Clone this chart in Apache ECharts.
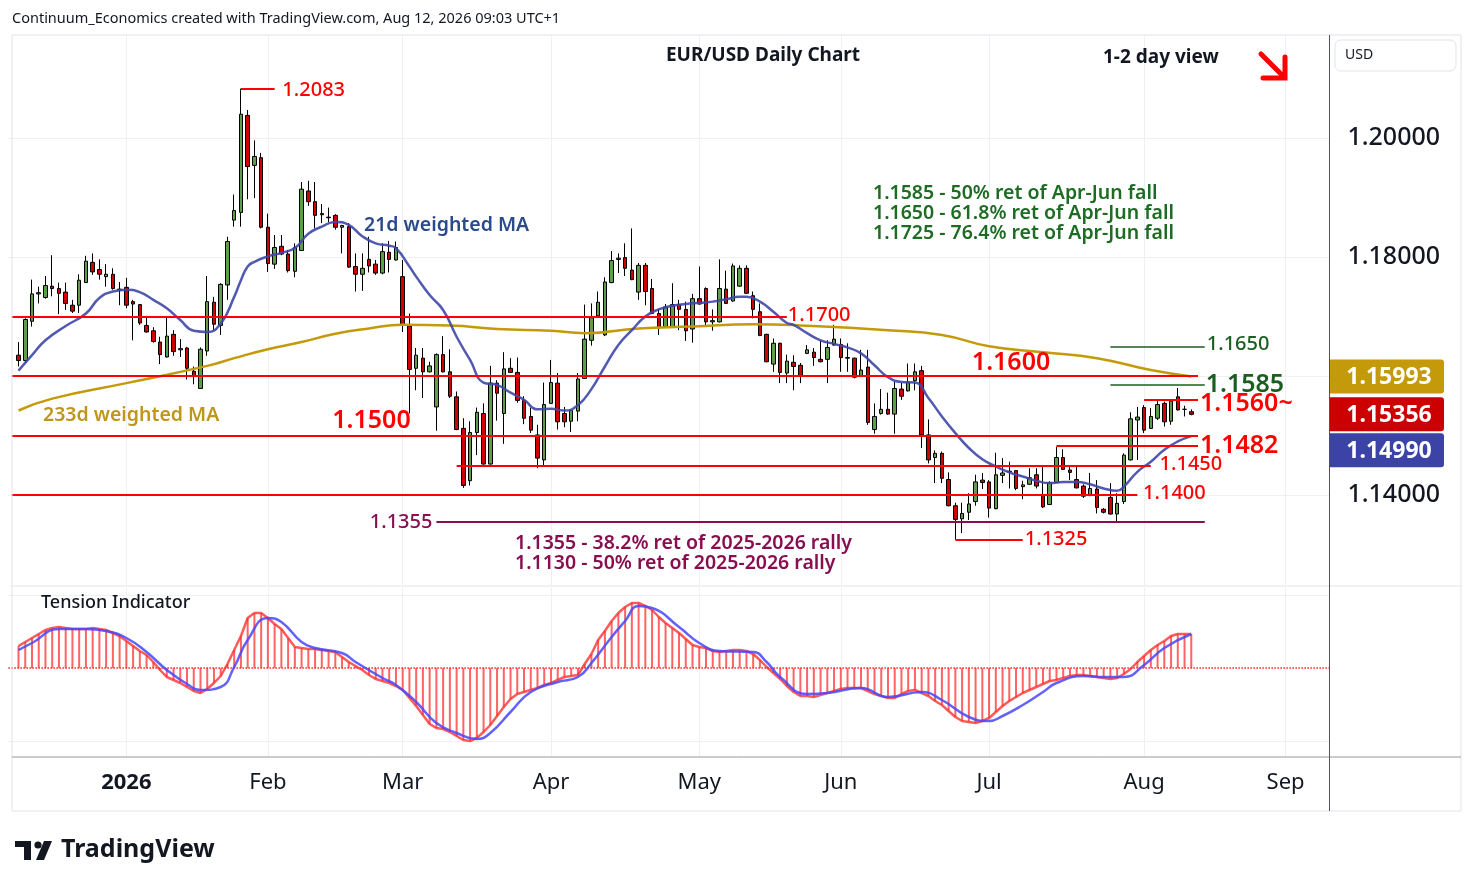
<!DOCTYPE html>
<html><head><meta charset="utf-8">
<script src="https://cdn.jsdelivr.net/npm/echarts@6/dist/echarts.min.js"></script>
<style>html,body{margin:0;padding:0;background:#fff;}#c{width:1474px;height:887px;}</style>
</head><body><div id="c"></div>
<script>
const FONT = '"Noto Sans", "Open Sans", sans-serif';

// ---- DATA ----
// daily candles EUR/USD, rows: [open, high, low, close], first = 9 Dec 2025, last = 12 Aug 2026
const candles = [
[1.1635,1.1657,1.1616,1.1626],[1.1626,1.1697,1.1622,1.1695],[1.1692,1.1762,1.1683,1.1738],[1.1738,1.1750,1.1722,1.1740],
[1.1732,1.1768,1.1730,1.1752],[1.1751,1.1803,1.1734,1.1747],[1.1747,1.1757,1.1704,1.1739],[1.1741,1.1757,1.1711,1.1722],
[1.1719,1.1728,1.1706,1.1709],[1.1719,1.1771,1.1706,1.1761],[1.1757,1.1802,1.1757,1.1793],[1.1791,1.1806,1.1770,1.1775],
[1.1779,1.1796,1.1762,1.1771],[1.1767,1.1788,1.1750,1.1771],[1.1771,1.1781,1.1745,1.1747],[1.1744,1.1758,1.1719,1.1746],
[1.1749,1.1765,1.1714,1.1719],[1.1725,1.1728,1.1660,1.1721],[1.1720,1.1721,1.1686,1.1689],[1.1685,1.1701,1.1673,1.1674],
[1.1676,1.1682,1.1656,1.1658],[1.1657,1.1666,1.1620,1.1636],[1.1632,1.1698,1.1631,1.1667],[1.1670,1.1677,1.1634,1.1641],
[1.1644,1.1662,1.1632,1.1646],[1.1647,1.1649,1.1594,1.1613],[1.1608,1.1616,1.1586,1.1599],[1.1579,1.1648,1.1579,1.1645],
[1.1642,1.1768,1.1634,1.1725],[1.1724,1.1733,1.1677,1.1687],[1.1685,1.1756,1.1669,1.1754],[1.1753,1.1834,1.1728,1.1826],
[1.1862,1.1905,1.1851,1.1878],[1.1875,1.2083,1.1851,1.2040],[1.2038,1.2047,1.1897,1.1952],[1.1954,1.1996,1.1899,1.1969],
[1.1967,1.1975,1.1848,1.1850],[1.1850,1.1873,1.1775,1.1789],[1.1788,1.1837,1.1780,1.1816],[1.1818,1.1837,1.1803,1.1805],
[1.1805,1.1812,1.1774,1.1777],[1.1776,1.1823,1.1766,1.1816],[1.1811,1.1926,1.1810,1.1914],[1.1911,1.1928,1.1886,1.1893],
[1.1893,1.1926,1.1848,1.1870],[1.1871,1.1889,1.1857,1.1873],[1.1866,1.1883,1.1858,1.1867],[1.1870,1.1872,1.1846,1.1850],
[1.1850,1.1854,1.1806,1.1853],[1.1851,1.1857,1.1782,1.1783],[1.1784,1.1806,1.1742,1.1771],[1.1771,1.1806,1.1743,1.1781],
[1.1796,1.1834,1.1774,1.1785],[1.1788,1.1795,1.1770,1.1773],[1.1773,1.1823,1.1771,1.1809],[1.1808,1.1827,1.1774,1.1796],
[1.1795,1.1826,1.1794,1.1816],[1.1767,1.1795,1.1674,1.1685],[1.1684,1.1705,1.1537,1.1611],[1.1613,1.1647,1.1576,1.1635],
[1.1630,1.1647,1.1563,1.1607],[1.1607,1.1624,1.1606,1.1617],[1.1548,1.1638,1.1508,1.1636],[1.1636,1.1667,1.1606,1.1607],
[1.1607,1.1645,1.1563,1.1566],[1.1565,1.1574,1.1509,1.1510],[1.1512,1.1529,1.1412,1.1416],[1.1424,1.1524,1.1416,1.1505],
[1.1505,1.1547,1.1467,1.1539],[1.1537,1.1554,1.1451,1.1452],[1.1452,1.1617,1.1451,1.1588],[1.1588,1.1593,1.1525,1.1571],
[1.1537,1.1640,1.1486,1.1612],[1.1613,1.1630,1.1605,1.1606],[1.1606,1.1631,1.1555,1.1559],[1.1559,1.1566,1.1519,1.1529],
[1.1532,1.1547,1.1504,1.1509],[1.1501,1.1518,1.1445,1.1462],[1.1459,1.1589,1.1448,1.1552],[1.1554,1.1627,1.1553,1.1589],
[1.1588,1.1605,1.1510,1.1523],[1.1537,1.1548,1.1514,1.1523],[1.1524,1.1544,1.1506,1.1542],[1.1541,1.1605,1.1524,1.1595],
[1.1596,1.1720,1.1595,1.1662],[1.1660,1.1722,1.1651,1.1698],[1.1701,1.1742,1.1700,1.1724],[1.1669,1.1766,1.1667,1.1758],
[1.1757,1.1810,1.1756,1.1794],[1.1796,1.1806,1.1773,1.1798],[1.1799,1.1823,1.1768,1.1781],[1.1778,1.1848,1.1761,1.1762],
[1.1741,1.1790,1.1728,1.1786],[1.1786,1.1790,1.1719,1.1742],[1.1747,1.1763,1.1704,1.1705],[1.1705,1.1713,1.1669,1.1681],
[1.1683,1.1721,1.1682,1.1716],[1.1683,1.1756,1.1682,1.1720],[1.1720,1.1728,1.1677,1.1712],[1.1712,1.1725,1.1659,1.1676],
[1.1679,1.1738,1.1656,1.1730],[1.1730,1.1784,1.1720,1.1721],[1.1747,1.1749,1.1684,1.1691],[1.1691,1.1712,1.1676,1.1693],
[1.1691,1.1796,1.1690,1.1747],[1.1746,1.1777,1.1721,1.1722],[1.1726,1.1789,1.1725,1.1785],[1.1751,1.1786,1.1750,1.1781],
[1.1781,1.1786,1.1738,1.1739],[1.1735,1.1742,1.1697,1.1712],[1.1708,1.1722,1.1667,1.1668],[1.1670,1.1671,1.1623,1.1624],
[1.1620,1.1663,1.1607,1.1655],[1.1655,1.1656,1.1588,1.1606],[1.1605,1.1636,1.1588,1.1625],[1.1623,1.1635,1.1576,1.1616],
[1.1618,1.1622,1.1588,1.1600],[1.1638,1.1652,1.1637,1.1644],[1.1640,1.1647,1.1617,1.1631],[1.1628,1.1660,1.1623,1.1624],
[1.1628,1.1660,1.1588,1.1648],[1.1652,1.1686,1.1651,1.1662],[1.1653,1.1663,1.1607,1.1631],[1.1630,1.1655,1.1607,1.1631],
[1.1630,1.1631,1.1596,1.1598],[1.1600,1.1644,1.1599,1.1610],[1.1615,1.1644,1.1518,1.1522],[1.1510,1.1554,1.1503,1.1532],
[1.1537,1.1578,1.1535,1.1544],[1.1544,1.1572,1.1535,1.1536],[1.1536,1.1590,1.1503,1.1579],[1.1578,1.1589,1.1560,1.1566],
[1.1575,1.1621,1.1574,1.1589],[1.1592,1.1621,1.1576,1.1607],[1.1609,1.1617,1.1479,1.1501],[1.1501,1.1527,1.1453,1.1459],
[1.1463,1.1475,1.1420,1.1470],[1.1470,1.1473,1.1420,1.1428],[1.1426,1.1438,1.1381,1.1382],[1.1382,1.1387,1.1325,1.1359],
[1.1360,1.1387,1.1336,1.1369],[1.1371,1.1403,1.1358,1.1385],[1.1389,1.1434,1.1382,1.1422],[1.1425,1.1437,1.1410,1.1421],
[1.1422,1.1425,1.1362,1.1378],[1.1377,1.1471,1.1376,1.1434],[1.1433,1.1462,1.1420,1.1437],[1.1439,1.1456,1.1411,1.1440],
[1.1441,1.1442,1.1408,1.1411],[1.1414,1.1424,1.1393,1.1417],[1.1418,1.1445,1.1417,1.1429],[1.1434,1.1445,1.1411,1.1415],
[1.1400,1.1450,1.1378,1.1380],[1.1384,1.1423,1.1383,1.1421],[1.1421,1.1481,1.1420,1.1463],[1.1463,1.1477,1.1442,1.1443],
[1.1442,1.1450,1.1425,1.1438],[1.1426,1.1448,1.1411,1.1412],[1.1415,1.1418,1.1395,1.1398],[1.1399,1.1437,1.1398,1.1411],
[1.1410,1.1425,1.1369,1.1379],[1.1376,1.1378,1.1369,1.1371],[1.1396,1.1420,1.1367,1.1368],[1.1368,1.1403,1.1356,1.1386],
[1.1389,1.1470,1.1385,1.1467],[1.1459,1.1539,1.1458,1.1528],[1.1526,1.1548,1.1459,1.1531],[1.1547,1.1551,1.1504,1.1509],
[1.1512,1.1546,1.1511,1.1532],[1.1529,1.1560,1.1526,1.1552],[1.1554,1.1557,1.1515,1.1523],[1.1524,1.1561,1.1518,1.1558],
[1.1565,1.1580,1.1542,1.1543],[1.1544,1.1550,1.1532,1.1544],[1.1540,1.1544,1.1534,1.15356]
];

// 21d weighted MA, read points: [candle index, value]
const wma21 = [[0,1.1609],[2,1.1635],[4,1.1660],[7,1.1684],[10,1.1705],[12,1.1731],[14,1.1742],[16,1.1745],[18,1.1741],[20,1.1728],
[22,1.1714],[24,1.1694],[26,1.1676],[28,1.1674],[30,1.1688],[32,1.1733],[33,1.1761],[34,1.1784],[35,1.1792],[37,1.1801],
[39,1.1807],[41,1.1815],[43,1.1839],[45,1.1851],[47,1.1859],[49,1.1854],[51,1.1835],[53,1.1823],[55,1.1819],[56,1.1815],
[58,1.1784],[59,1.1767],[61,1.1736],[63,1.1711],[65,1.1666],[67,1.1627],[69,1.1589],[71,1.1585],[73,1.1572],[75,1.1560],
[77,1.1544],[79,1.1545],[81,1.1542],[83,1.1551],[85,1.1578],[87,1.1616],[89,1.1652],[91,1.1677],[93,1.1700],[95,1.1712],
[97,1.1718],[99,1.1721],[101,1.1723],[103,1.1725],[105,1.1729],[107,1.1733],[108,1.1733],[110,1.1725],[112,1.1708],[114,1.1689],
[115,1.1686],[117,1.1672],[119,1.1660],[121,1.1654],[123,1.1648],[125,1.1638],[127,1.1618],[129,1.1598],[131,1.1590],[133,1.1589],
[135,1.1563],[137,1.1532],[139,1.1504],[141,1.1479],[143,1.1460],[145,1.1448],[147,1.1438],[149,1.1431],[151,1.1424],[153,1.1420],
[155,1.1422],[157,1.1422],[159,1.1418],[161,1.1411],[163,1.1407],[164,1.1414],[166,1.1439],[168,1.1456],[170,1.1476],[172,1.1490],
[174,1.1499]];

// 233d weighted MA, read points: [candle index, value]
const wma233 = [[0,1.1542],[5,1.1562],[16,1.1588],[28,1.1617],[32,1.1630],[37,1.1645],[42,1.1657],[47,1.1671],[52,1.1680],
[57,1.1686],[64,1.1685],[71,1.1679],[79,1.1676],[84,1.1672],[92,1.1680],[100,1.1683],[109,1.1687],[116,1.1685],[129,1.1677],
[137,1.1669],[144,1.1650],[152,1.1640],[160,1.1630],[168,1.1610],[174,1.15993]];

// Tension indicator histogram, one value per candle
const tension = [22,26,30,34,38,40,41,40,39,39, 39,40,39,38,35,32,27,22,17,13, 6,-2,-9,-12,-15,-19,-23,-25,-21,-15,
-8,4,18,32,50,55,55,50,44,39, 30,21,20,19,19,18,17,16,11,6, 2,-2,-7,-11,-13,-15,-18,-22,-30,-38,
-47,-56,-60,-61,-64,-68,-72,-73,-70,-64, -57,-48,-39,-31,-26,-24,-22,-20,-17,-15, -12,-9,-8,-7,4,14,28,37,47,55,
61,65,65,62,58,51,45,40,35,29, 23,21,20,17,16,17,18,18,17,14, 8,1,-5,-11,-18,-24,-28,-28,-29,-27,
-25,-23,-21,-20,-20,-20,-23,-26,-28,-30, -30,-26,-23,-22,-25,-28,-33,-37,-43,-49, -53,-54,-55,-53,-50,-44,-38,-33,-29,-25,
-22,-19,-16,-13,-12,-10,-8,-7,-7,-8, -9,-10,-11,-10,-6,-1,6,12,18,23, 27,32,34,34,34];

// Tension signal line, read points: [candle index, value]
const tensionSignal = [[0,18],[2,25],[6,39],[10,39],[13,37],[16,30],[19,16],[22,-2],[25,-16],[27,-22],[30,-19],[32,1],[34,28],
[37,50],[39,46],[42,26],[44,20],[48,15],[50,6],[54,-10],[56,-17],[59,-34],[62,-55],[65,-65],[68,-71],[70,-65],[73,-44],[76,-24],
[80,-14],[83,-9],[85,5],[88,31],[90,47],[92,62],[94,60],[98,41],[101,25],[104,17],[109,16],[111,6],[113,-9],[117,-26],[120,-25],
[125,-20],[129,-29],[134,-24],[137,-32],[141,-49],[144,-53],[146,-48],[149,-37],[152,-24],[154,-15],[158,-8],[161,-9],[164,-9],
[167,3],[170,20],[174,34]];

const priceTicks = [1.14, 1.18, 1.20];
const priceGrid = [1.14, 1.16, 1.18, 1.20];
const monthNames = ['Jan','Feb','Mar','Apr','May','Jun','Jul','Aug','Sep','Oct','Nov','Dec'];

// Level drawings: price, from/to category index
const levels = [
  {p:1.2083, a:34, b:39, c:'#ff0000', w:2},
  {p:1.1700, a:0, b:115, c:'#ff0000', w:2},
  {p:1.1600, a:0, b:176, c:'#ff0000', w:2},
  {p:1.1500, a:0, b:176, c:'#ff0000', w:2},
  {p:1.1450, a:66, b:169, c:'#ff0000', w:2},
  {p:1.1400, a:0, b:167, c:'#ff0000', w:2},
  {p:1.1482, a:155, b:176, c:'#ff0000', w:2},
  {p:1.1560, a:168, b:176, c:'#ff0000', w:2},
  {p:1.1585, a:163, b:177, c:'#1b5e20', w:1.5},
  {p:1.1650, a:163, b:177, c:'#1b5e20', w:1.5},
  {p:1.1355, a:63, b:177, c:'#880e4f', w:2},
  {p:1.1325, a:140, b:150, c:'#ff0000', w:2}
];
// Level labels: text, category index, price
const levelLabels = [
  {t:'1.2083', i:40, p:1.2081, s:20, c:'#ff0000', fw:500, dx:1, al:'left'},
  {t:'1.1700', i:115, p:1.1702, s:20, c:'#ff0000', fw:500, dx:1, al:'left'},
  {t:'1.1600', i:142, p:1.16218, s:25, c:'#ff0000', fw:600, dx:3, al:'left'},
  {t:'1.1500', i:48, p:1.15244, s:25, c:'#ff0000', fw:600, dx:-3, al:'left'},
  {t:'1.1450', i:170, p:1.1452, s:20, c:'#ff0000', fw:500, dx:2, al:'left'},
  {t:'1.1400', i:168, p:1.14034, s:20, c:'#ff0000', fw:500, dx:-1, al:'left'},
  {t:'1.1482', i:176, p:1.14824, s:25, c:'#ff0000', fw:600, dx:2, al:'left'},
  {t:'1.1560~', i:176, p:1.15529, s:25, c:'#ff0000', fw:600, dx:2, al:'left'},
  {t:'1.1585', i:177, p:1.15849, s:25, c:'#1b5e20', fw:600, dx:1, al:'left'},
  {t:'1.1650', i:177, p:1.16538, s:20, c:'#1b5e20', fw:500, dx:2, al:'left'},
  {t:'1.1355', i:63, p:1.13546, s:20, c:'#880e4f', fw:500, dx:-4, al:'right'},
  {t:'1.1325', i:150, p:1.13261, s:20, c:'#ff0000', fw:500, dx:2, al:'left'}
];

// ---- CATEGORIES (trading days) ----
function tradingDays(startIso, count, skip) {
  const out = []; const d = new Date(startIso + 'T00:00:00Z');
  while (out.length < count) {
    const wd = d.getUTCDay(); const iso = d.toISOString().slice(0,10);
    if (wd !== 0 && wd !== 6 && skip.indexOf(iso) < 0) out.push(iso);
    d.setUTCDate(d.getUTCDate() + 1);
  }
  return out;
}
const categories = tradingDays('2025-12-08', 196, ['2025-12-25','2026-01-01']);
const monthStarts = [];
for (let i = 1; i < categories.length; i++) if (categories[i].slice(5,7) !== categories[i-1].slice(5,7)) monthStarts.push(i);
const monthSet = new Set(monthStarts);

const candleData = [['-','-','-','-']].concat(candles.map(r => [r[0], r[3], r[2], r[1]]));
const tensionData = ['-'].concat(tension);
const shift = arr => arr.map(d => [d[0] + 1, d[1]]);

const chart = echarts.init(document.getElementById('c'));
const GRID_L = 8.4, GRID_R = 144.56;
const vLines = monthStarts.map(i => ({xAxis: categories[i]}));

const option = {
  animation: false,
  backgroundColor: '#ffffff',
  textStyle: {fontFamily: FONT},
  grid: [
    {left: GRID_L, right: GRID_R, top: 35, height: 550},
    {left: GRID_L, right: GRID_R, top: 588, height: 169}
  ],
  xAxis: [
    {type:'category', gridIndex:0, data:categories, boundaryGap:true, axisLine:{show:false}, axisTick:{show:false}, axisLabel:{show:false}, splitLine:{show:false}},
    {type:'category', gridIndex:1, data:categories, boundaryGap:true, axisLine:{show:false}, axisTick:{show:false}, splitLine:{show:false},
     axisLabel:{show:true, interval:(i) => monthSet.has(i), margin:15, fontSize:22, color:'#131722', fontFamily:FONT,
       formatter:(v) => { const m = +v.slice(5,7); return m === 1 ? '{y|' + v.slice(0,4) + '}' : monthNames[m-1]; },
       rich:{y:{fontSize:22, fontWeight:'bold', color:'#131722', fontFamily:FONT}}}}
  ],
  yAxis: [
    {type:'value', gridIndex:0, position:'right', min:1.124874, max:1.217311, axisLine:{show:false}, axisTick:{show:false}, splitLine:{show:false},
     axisLabel:{customValues:priceTicks, formatter:(v) => v.toFixed(5), fontSize:25, fontWeight:500, color:'#131722', margin:18, fontFamily:FONT}},
    {type:'value', gridIndex:1, min:-89, max:80, show:false}
  ],
  series: [
    {type:'line', xAxisIndex:0, yAxisIndex:0, data:['-'], silent:true, z:1,
     markLine:{silent:true, z:1, symbol:['none','none'], label:{show:false}, lineStyle:{color:'#edf0f5', width:1, type:'solid'},
       data: vLines.concat(priceGrid.map(p => ({yAxis:p})))}},
    {type:'candlestick', name:'EURUSD', xAxisIndex:0, yAxisIndex:0, data:candleData, barWidth:4, z:2,
     itemStyle:{color:'#5e9e48', color0:'#d00000', borderColor:'#000000', borderColor0:'#000000', borderWidth:1},
     markLine:{silent:true, z:6, symbol:['none','none'], label:{show:false},
       data: levels.map(l => [{coord:[l.a, l.p], lineStyle:{color:l.c, width:l.w, type:'solid'}}, {coord:[l.b, l.p]}])}},
    {type:'line', name:'233d', xAxisIndex:0, yAxisIndex:0, data:shift(wma233), smooth:true, showSymbol:false, z:3,
     lineStyle:{color:'#c49a0b', width:2.5}},
    {type:'line', name:'21d', xAxisIndex:0, yAxisIndex:0, data:shift(wma21), smooth:true, showSymbol:false, z:3,
     lineStyle:{color:'#3f47a8', width:2.5, opacity:0.9}},
    {type:'line', xAxisIndex:1, yAxisIndex:1, data:['-'], silent:true, z:1,
     markLine:{silent:true, z:1, symbol:['none','none'], label:{show:false}, lineStyle:{color:'#edf0f5', width:1, type:'solid'},
       data: vLines.concat([{yAxis:73},{yAxis:-73}])}},
    {type:'bar', xAxisIndex:1, yAxisIndex:1, data:tensionData, barWidth:2, z:2,
     itemStyle:{color:'rgba(255,60,60,0.8)'},
     markLine:{silent:true, z:3, symbol:['none','none'], label:{show:false}, lineStyle:{color:'#ff2020', width:1.5, type:'dotted'}, data:[{yAxis:0}]}},
    {type:'line', xAxisIndex:1, yAxisIndex:1, data:tensionData, showSymbol:false, z:3,
     lineStyle:{color:'rgba(255,50,50,0.8)', width:2.5}},
    {type:'line', xAxisIndex:1, yAxisIndex:1, data:shift(tensionSignal), smooth:true, showSymbol:false, z:4,
     lineStyle:{color:'rgba(70,70,255,0.85)', width:2.5}}
  ]
};
chart.setOption(option);

// ---- graphics ----
const G = [];
function line(x1,y1,x2,y2,c,w){ G.push({type:'line', silent:true, z:50, shape:{x1,y1,x2,y2}, style:{stroke:c, lineWidth:w||1}}); }
function text(t,x,y,opt,z){ G.push({type:'text', silent:true, z:z||60, x, y, style:Object.assign({text:t, fontFamily:FONT, textAlign:'left', textVerticalAlign:'middle', fill:'#131722', fontSize:18}, opt||{})}); }

// frame
line(12,35,1461,35,'#e0e3eb'); line(12,35,12,811,'#e0e3eb'); line(1461,35,1461,811,'#e0e3eb'); line(12,811,1461,811,'#e0e3eb');
line(12,586,1461,586,'#e0e3eb'); line(12,757,1461,757,'#9598a1'); line(1329.5,35,1329.5,811,'#50535e');

// header + titles
text('Continuum_Economics created with TradingView.com, Aug 12, 2026 09:03 UTC+1', 12, 19, {fontSize:14.5});
text('EUR/USD Daily Chart', 763, 56, {fontSize:19, fontWeight:'bold', textAlign:'center'});
text('1-2 day view', 1103, 58, {fontSize:19, fontWeight:'bold'});
G.push({type:'polyline', silent:true, z:60, shape:{points:[[1261,54],[1283,76]]}, style:{stroke:'#ff0000', lineWidth:5, lineCap:'round'}});
G.push({type:'polyline', silent:true, z:60, shape:{points:[[1263,78],[1285,78],[1285,57]]}, style:{stroke:'#ff0000', lineWidth:5, lineJoin:'miter', lineCap:'round', fill:null}});
G.push({type:'rect', silent:true, z:60, shape:{x:1335, y:40, width:121, height:31, r:6}, style:{fill:'#fff', stroke:'#e0e3eb', lineWidth:1}});
text('USD', 1345, 55.5, {fontSize:14}, 65);

const GREEN = '#1e6b24', MAROON = '#880e4f';
text('1.1585 - 50% ret of Apr-Jun fall', 873, 193, {fontSize:19.5, fontWeight:600, fill:GREEN});
text('1.1650 - 61.8% ret of Apr-Jun fall', 873, 213, {fontSize:19.5, fontWeight:600, fill:GREEN});
text('1.1725 - 76.4% ret of Apr-Jun fall', 873, 233, {fontSize:19.5, fontWeight:600, fill:GREEN});
text('21d weighted MA', 364, 225, {fontSize:19.5, fontWeight:600, fill:'#2a4a8c'});
text('233d weighted MA', 43, 415, {fontSize:19.5, fontWeight:600, fill:'#c0961a'});
text('1.1355 - 38.2% ret of 2025-2026 rally', 515, 543, {fontSize:19.5, fontWeight:600, fill:MAROON});
text('1.1130 - 50% ret of 2025-2026 rally', 515, 563, {fontSize:19.5, fontWeight:600, fill:MAROON});
text('Tension Indicator', 41, 603, {fontSize:18, fontWeight:500});

// level labels placed through the chart's own scales
levelLabels.forEach(l => {
  const pt = chart.convertToPixel({gridIndex:0}, [l.i, l.p]);
  text(l.t, pt[0] + l.dx, pt[1], {fontSize:l.s, fontWeight:l.fw, fill:l.c, textAlign:l.al});
});

// price tags on axis
const last = candles[candles.length-1][3];
const tags = [
  {v: wma233[wma233.length-1][1], c:'#c49a0b'},
  {v: last, c:'#cc0000'},
  {v: wma21[wma21.length-1][1], c:'#3b43a6'}
].map(t => Object.assign(t, {y: chart.convertToPixel({yAxisIndex:0}, t.v)})).sort((a,b) => a.y - b.y);
const H = 34;
for (let k = 1; k < tags.length; k++) { const minY = tags[k-1].y + H + 2; if (tags[k].y < minY) tags[k].y = minY; }
tags.forEach(t => {
  G.push({type:'rect', silent:true, z:70, shape:{x:1330, y:t.y - H/2, width:114, height:H, r:[0,3,3,0]}, style:{fill:t.c}});
  text(t.v.toFixed(5), 1389, t.y + 1, {fontSize:23, fontWeight:'bold', fill:'#ffffff', textAlign:'center'}, 90);
});

// TradingView logo
G.push({type:'rect', silent:true, z:60, shape:{x:15, y:841, width:16, height:6}, style:{fill:'#131722'}});
G.push({type:'rect', silent:true, z:60, shape:{x:24, y:841, width:7, height:19}, style:{fill:'#131722'}});
G.push({type:'circle', silent:true, z:60, shape:{cx:38, cy:845, r:3.6}, style:{fill:'#131722'}});
G.push({type:'polygon', silent:true, z:60, shape:{points:[[44,841],[52,841],[44,860],[36,860]]}, style:{fill:'#131722'}});
text('TradingView', 61, 850, {fontSize:25, fontWeight:'bold'});

chart.setOption({graphic: G});
</script>
</body></html>
